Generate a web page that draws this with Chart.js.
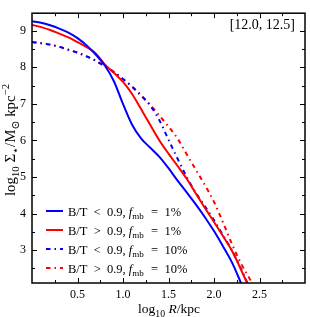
<!DOCTYPE html>
<html>
<head>
<meta charset="utf-8">
<script src="https://cdn.jsdelivr.net/npm/chart.js@4.4.0/dist/chart.umd.min.js"></script>
<style>
html, body { margin: 0; padding: 0; background: #fff; }
#wrap { width: 310px; height: 317px; position: relative; }
</style>
</head>
<body>
<div id="wrap"><canvas id="profiles"></canvas></div>
<script>
// log10 R / kpc
var logR = [0.0, 0.1, 0.2, 0.3, 0.4, 0.5, 0.6, 0.7, 0.8, 0.9,
            1.0, 1.1, 1.2, 1.3, 1.4, 1.5, 1.6, 1.7, 1.8, 1.9,
            2.0, 2.1, 2.2, 2.3, 2.4, 2.5];

// log10 Sigma_* / Msun kpc^-2
var blueSolid   = [9.26, 9.22, 9.15, 9.06, 8.95, 8.80, 8.60, 8.35, 8.05, 7.62,
                   7.00, 6.43, 6.05, 5.80, 5.55, 5.24, 4.90, 4.58, 4.25, 3.90,
                   3.52, 3.10, 2.65, 2.08, 1.50, null];
var redSolid    = [9.16, 9.10, 9.02, 8.92, 8.82, 8.69, 8.55, 8.38, 8.08, 7.85,
                   7.60, 7.27, 6.85, 6.42, 6.00, 5.64, 5.30, 4.95, 4.55, 4.15,
                   3.77, 3.38, 2.97, 2.45, 1.90, null];
var blueDashDot = [8.69, 8.66, 8.62, 8.56, 8.48, 8.40, 8.30, 8.18, 8.03, 7.87,
                   7.68, 7.47, 7.23, 6.95, 6.55, 6.02, 5.50, 5.00, 4.57, 4.20,
                   3.82, 3.40, 2.98, 2.47, 1.92, null];
var redDashDot  = [8.69, 8.66, 8.62, 8.56, 8.48, 8.40, 8.30, 8.18, 8.03, 7.87,
                   7.68, 7.47, 7.22, 6.97, 6.68, 6.38, 6.05, 5.62, 5.20, 4.78,
                   4.32, 3.75, 3.15, 2.62, 2.18, 1.70];

var btLabels  = ['B/T < 0.9', 'B/T > 0.9', 'B/T < 0.9', 'B/T > 0.9'];
var fmbLabels = ['1%', '1%', '10%', '10%'];
var massBin = '[12.0, 12.5]';

var SERIF = '"Liberation Serif", "DejaVu Serif", serif';
var DASHDOT = [4.5, 4, 1.5, 4];

function pts(ys) {
  var out = [];
  for (var i = 0; i < logR.length; i++) {
    if (ys[i] !== null) out.push({x: logR[i], y: ys[i]});
  }
  return out;
}

function measureRich(ctx, segs, size) {
  return segs.map(function(s) {
    var sz = (s.sub || s.sup) ? size * 0.72 : size;
    var font = (s.it ? 'italic ' : '') + sz + 'px ' + SERIF;
    ctx.font = font;
    return {t: s.t, font: font, w: ctx.measureText(s.t).width + (s.pad || 0),
            dy: s.sub ? size * 0.28 : (s.sup ? -size * 0.42 : 0)};
  });
}

// draws text pieces, some italic / subscript / superscript
// if fit is given the size is adjusted so the whole string is that wide
function drawRich(ctx, segs, x, y, size, align, fit) {
  var parts = measureRich(ctx, segs, size);
  var total = 0;
  parts.forEach(function(p) { total += p.w; });
  if (fit) {
    size = size * fit / total;
    parts = measureRich(ctx, segs, size);
    total = 0;
    parts.forEach(function(p) { total += p.w; });
  }
  var cx = align === 'center' ? x - total / 2 : (align === 'right' ? x - total : x);
  ctx.textAlign = 'left';
  ctx.textBaseline = 'alphabetic';
  parts.forEach(function(p) {
    ctx.font = p.font;
    ctx.fillText(p.t, cx, y + p.dy);
    cx += p.w;
  });
}

var decorations = {
  id: 'decorations',
  afterDraw: function(chart) {
    var ctx = chart.ctx, a = chart.chartArea;
    var xs = chart.scales.x, ys = chart.scales.y;
    ctx.save();
    ctx.strokeStyle = '#000';
    ctx.fillStyle = '#000';

    // ticks inward on all sides
    ctx.lineWidth = 1;
    ctx.beginPath();
    for (var i = 1; i < 12; i++) {
      var px = Math.round(xs.getPixelForValue(i * 0.25)) + 0.5;
      var len = (i % 2 === 0) ? 5 : 3;
      ctx.moveTo(px, a.bottom); ctx.lineTo(px, a.bottom - len);
      ctx.moveTo(px, a.top); ctx.lineTo(px, a.top + len);
    }
    for (var j = 5; j <= 19; j++) {
      var v = j * 0.5;
      if (v > ys.max) break;
      var py = Math.round(ys.getPixelForValue(v)) + 0.5;
      var l2 = (j % 2 === 0) ? 5 : 3;
      ctx.moveTo(a.left, py); ctx.lineTo(a.left + l2, py);
      ctx.moveTo(a.right, py); ctx.lineTo(a.right - l2, py);
    }
    ctx.stroke();

    // frame
    ctx.lineWidth = 1.5;
    ctx.strokeRect(a.left, a.top, a.right - a.left, a.bottom - a.top);

    // legend
    var ds = chart.data.datasets;
    for (var k = 0; k < ds.length; k++) {
      var ry = 211 + k * 19;
      ctx.beginPath();
      ctx.strokeStyle = ds[k].borderColor;
      ctx.lineWidth = 2;
      ctx.setLineDash(ds[k].borderDash || []);
      ctx.moveTo(46, ry); ctx.lineTo(63, ry);
      ctx.stroke();
      ctx.setLineDash([]);
      drawRich(ctx, [
        {t: btLabels[k].replace(' < ', '  <  ').replace(' > ', '  >  ') + ', '},
        {t: 'f', it: true},
        {t: 'mb', sub: true, pad: 1},
        {t: '  =  ' + fmbLabels[k]}
      ], 68, ry + 4.5, 12.5, 'left');
    }

    // halo-mass bin
    ctx.font = '14px ' + SERIF;
    ctx.textAlign = 'right';
    ctx.textBaseline = 'alphabetic';
    ctx.fillText(massBin, 295, 29);

    // x title
    drawRich(ctx, [
      {t: 'log'}, {t: '10', sub: true}, {t: ' '},
      {t: 'R', it: true}, {t: '/kpc'}
    ], 169, 313, 13.5, 'center');

    // y title
    ctx.translate(15, 140);
    ctx.rotate(-Math.PI / 2);
    drawRich(ctx, [
      {t: 'log'}, {t: '10', sub: true}, {t: ' Σ'}, {t: '⋆', sub: true},
      {t: '/M'}, {t: '⊙', sub: true}, {t: ' kpc'}, {t: '−2', sup: true}
    ], 0, 0, 13, 'center', 112);

    ctx.restore();
  }
};

var ctx = document.getElementById('profiles');
new Chart(ctx, {
  type: 'line',
  data: {
    datasets: [
      {label: 'B/T < 0.9, f_mb = 1%', data: pts(blueSolid), borderColor: '#0000ff', borderWidth: 2},
      {label: 'B/T > 0.9, f_mb = 1%', data: pts(redSolid), borderColor: '#ff0000', borderWidth: 2},
      {label: 'B/T < 0.9, f_mb = 10%', data: pts(blueDashDot), borderColor: '#0000ff', borderWidth: 2, borderDash: DASHDOT},
      {label: 'B/T > 0.9, f_mb = 10%', data: pts(redDashDot), borderColor: '#ff0000', borderWidth: 2, borderDash: DASHDOT}
    ]
  },
  options: {
    responsive: true,
    maintainAspectRatio: false,
    animation: false,
    events: [],
    layout: {padding: {top: 1, right: 3, left: 0, bottom: 0}},
    elements: {
      point: {radius: 0},
      line: {cubicInterpolationMode: 'monotone', fill: false}
    },
    plugins: {
      legend: {display: false},
      tooltip: {enabled: false}
    },
    scales: {
      x: {
        type: 'linear',
        min: 0, max: 3,
        grid: {display: false, drawTicks: false},
        border: {display: false},
        ticks: {
          stepSize: 0.5,
          padding: 5,
          color: '#000',
          font: {family: SERIF, size: 12},
          maxRotation: 0,
          callback: function(v) { return (v > 0 && v < 3) ? v.toFixed(1) : ''; }
        },
        afterFit: function(s) { s.height = 34; }
      },
      y: {
        min: 2.1, max: 9.48,
        grid: {display: false, drawTicks: false},
        border: {display: false},
        ticks: {
          stepSize: 1,
          padding: 6,
          color: '#000',
          font: {family: SERIF, size: 12},
          callback: function(v) { return Number.isInteger(v) ? String(v) : ''; }
        },
        afterFit: function(s) { s.width = 32; }
      }
    }
  },
  plugins: [decorations]
});
</script>
</body>
</html>
